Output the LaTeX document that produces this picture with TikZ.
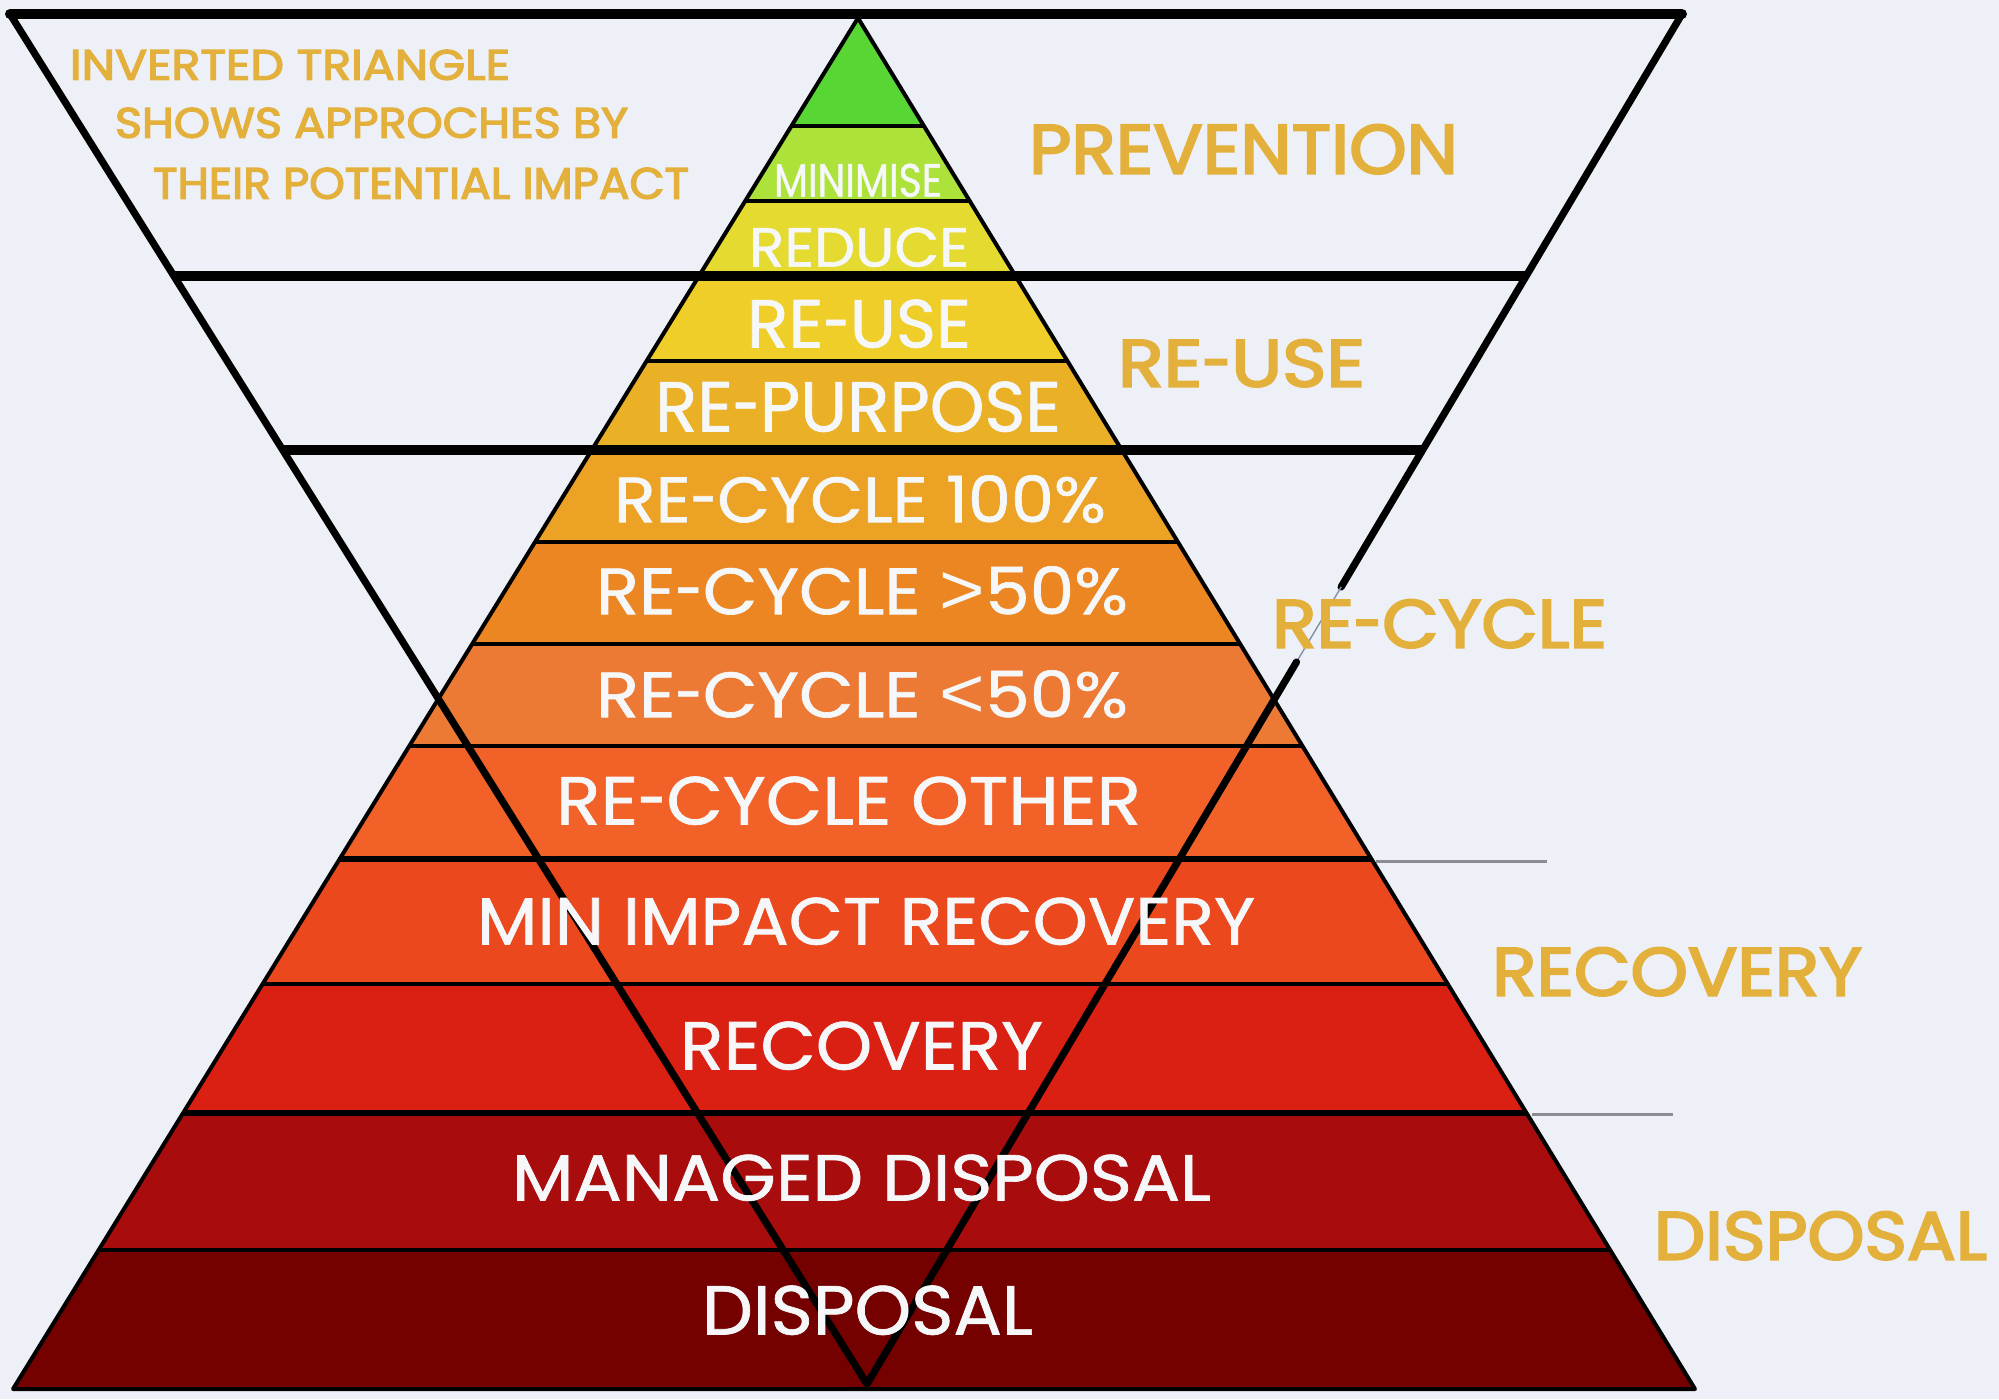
\documentclass[tikz,border=0pt]{standalone}
\usepackage{fontspec}
\setmainfont{Poppins}
\newfontfamily\goldfont{Poppins}[FakeBold=3]
\newfontfamily\whitefont{Poppins}[FakeBold=1]
\newfontfamily\cmpfont{Liberation Sans}
\usetikzlibrary{calc}
\newdimen\pxu \pxu=0.5pt
\newcommand\fitbox[3]{\resizebox{#1\pxu}{#2\pxu}{#3}}
\newcommand\hy{\scalebox{0.7}[1]{-}}
\newcommand\cmpgt{{\cmpfont\scalebox{1.1}{>}}}
\newcommand\cmplt{{\cmpfont\scalebox{1.1}{<}}}

\definecolor{bg}{RGB}{237,240,246}
\definecolor{gold}{RGB}{227,176,60}
\definecolor{txtwhite}{RGB}{246,247,249}
\definecolor{tickgray}{RGB}{140,140,146}
\definecolor{gapgray}{RGB}{130,145,165}
\definecolor{bA}{RGB}{88,214,52}
\definecolor{bB}{RGB}{172,226,58}
\definecolor{bC}{RGB}{228,218,48}
\definecolor{bD}{RGB}{240,206,42}
\definecolor{bE}{RGB}{234,176,38}
\definecolor{bF}{RGB}{236,162,36}
\definecolor{bG}{RGB}{236,134,34}
\definecolor{bH}{RGB}{236,122,52}
\definecolor{bI}{RGB}{242,98,40}
\definecolor{bJ}{RGB}{236,72,30}
\definecolor{bK}{RGB}{218,32,18}
\definecolor{bL}{RGB}{168,12,12}
\definecolor{bM}{RGB}{116,0,0}

\tikzset{
  pyrside/.style={draw=black, line width=2pt, line join=round},
  sepline/.style={black, line width=2pt},
  septhick/.style={black, line width=2.6pt},
  invside/.style={black, line width=3.6pt, line join=round, line cap=round},
  invtop/.style={black, line width=5pt, line join=round, line cap=round},
  invbar/.style={black, line width=4.6pt},
  gaplight/.style={gapgray, line width=0.7pt},
  tickline/.style={tickgray, line width=1.5pt},
  goldlbl/.style={text=gold, inner sep=0pt, outer sep=0pt, anchor=south west, font=\goldfont},
  whitelbl/.style={text=txtwhite, inner sep=0pt, outer sep=0pt, anchor=south west, font=\whitefont},
}

\begin{document}
\begin{tikzpicture}[x=0.5pt, y=-0.5pt]
\useasboundingbox (0,0) rectangle (1999,1399);
\fill[bg] (0,0) rectangle (1999,1399);

% key points
\coordinate (itl) at (10,14);
\coordinate (itr) at (1682,14);
\coordinate (ibot) at (867,1384);
\coordinate (papex) at (858,18);
\coordinate (pbl) at (13,1389);
\coordinate (pbr) at (1695,1389);

% pyramid bands
\begin{scope}
  \clip (papex) -- (pbl) -- (pbr) -- cycle;
  \fill[bA] (0,0) rectangle (1999,126);
  \fill[bB] (0,126) rectangle (1999,201);
  \fill[bC] (0,201) rectangle (1999,276);
  \fill[bD] (0,276) rectangle (1999,361);
  \fill[bE] (0,361) rectangle (1999,450);
  \fill[bF] (0,450) rectangle (1999,542);
  \fill[bG] (0,542) rectangle (1999,644);
  \fill[bH] (0,644) rectangle (1999,746);
  \fill[bI] (0,746) rectangle (1999,859);
  \fill[bJ] (0,859) rectangle (1999,984);
  \fill[bK] (0,984) rectangle (1999,1113);
  \fill[bL] (0,1113) rectangle (1999,1250);
  \fill[bM] (0,1250) rectangle (1999,1399);
  \draw[sepline] (0,126) -- (1999,126);
  \draw[sepline] (0,201) -- (1999,201);
  \draw[sepline] (0,361) -- (1999,361);
  \draw[sepline] (0,542) -- (1999,542);
  \draw[sepline] (0,644) -- (1999,644);
  \draw[sepline] (0,746) -- (1999,746);
  \draw[septhick] (0,859) -- (1999,859);
  \draw[sepline] (0,984) -- (1999,984);
  \draw[septhick] (0,1113) -- (1999,1113);
  \draw[sepline] (0,1250) -- (1999,1250);
\end{scope}
\draw[pyrside] (papex) -- (pbl) -- (pbr) -- cycle;

% inverted triangle
\coordinate (gapA) at ($(itr)!0.41825!(ibot)$);
\coordinate (gapB) at ($(itr)!0.47299!(ibot)$);
\draw[invtop] (itl) -- (itr);
\draw[invside] (itr) -- (gapA);
\draw[gaplight] (gapA) -- (gapB);
\draw[invside] (itl) -- (ibot) -- (gapB);
\draw[invbar] ($(itl)!0.19124!(ibot)$) -- ($(itr)!0.19124!(ibot)$);
\draw[invbar] ($(itl)!0.31825!(ibot)$) -- ($(itr)!0.31825!(ibot)$);

% grey ticks on the right
\coordinate (tk1a) at (1376,861);
\coordinate (tk1b) at (1547,861);
\coordinate (tk2a) at (1532,1114);
\coordinate (tk2b) at (1673,1114);
\draw[tickline] (tk1a) -- (tk1b);
\draw[tickline] (tk2a) -- (tk2b);

% gold labels
\node[goldlbl] (tinv1) at (70,80) {\fitbox{440}{30}{INVERTED TRIANGLE}};
\node[goldlbl] (tinv2) at (115,138) {\fitbox{513}{30}{SHOWS APPROCHES BY}};
\node[goldlbl] (tinv3) at (153,199) {\fitbox{536}{31}{THEIR POTENTIAL IMPACT}};
\node[goldlbl] (gprev) at (1029,174) {\fitbox{429}{49}{PREVENTION}};
\node[goldlbl] (greuse) at (1118,387) {\fitbox{247}{47}{RE\hy USE}};
\node[goldlbl] (grecyc) at (1272,648) {\fitbox{335}{48}{RE\hy CYCLE}};
\node[goldlbl] (grecov) at (1492,996) {\fitbox{370}{48}{RECOVERY}};
\node[goldlbl] (gdisp) at (1654,1260) {\fitbox{333}{48}{DISPOSAL}};

% white labels
\node[whitelbl] (wmin) at (774,197) {\fitbox{168}{33}{MINIMISE}};
\node[whitelbl] (wred) at (749,267) {\fitbox{220}{39}{REDUCE}};
\node[whitelbl] (wreuse) at (747,348) {\fitbox{224}{48}{RE\hy USE}};
\node[whitelbl] (wrepur) at (655,432) {\fitbox{406}{50}{RE\hy PURPOSE}};
\node[whitelbl] (wrc100) at (614,523) {\fitbox{492}{47}{RE\hy CYCLE 100\%}};
\node[whitelbl] (wrcgt) at (596,615) {\fitbox{532}{48}{RE\hy CYCLE \cmpgt50\%}};
\node[whitelbl] (wrclt) at (596,718) {\fitbox{532}{47}{RE\hy CYCLE \cmplt50\%}};
\node[whitelbl] (wrcoth) at (556,825) {\fitbox{585}{48}{RE\hy CYCLE OTHER}};
\node[whitelbl] (wmir) at (477,945) {\fitbox{778}{47}{MIN IMPACT RECOVERY}};
\node[whitelbl] (wrecov) at (680,1070) {\fitbox{363}{48}{RECOVERY}};
\node[whitelbl] (wmand) at (512,1201) {\fitbox{699}{46}{MANAGED DISPOSAL}};
\node[whitelbl] (wdisp) at (702,1335) {\fitbox{331}{49}{DISPOSAL}};
\end{tikzpicture}
\end{document}
